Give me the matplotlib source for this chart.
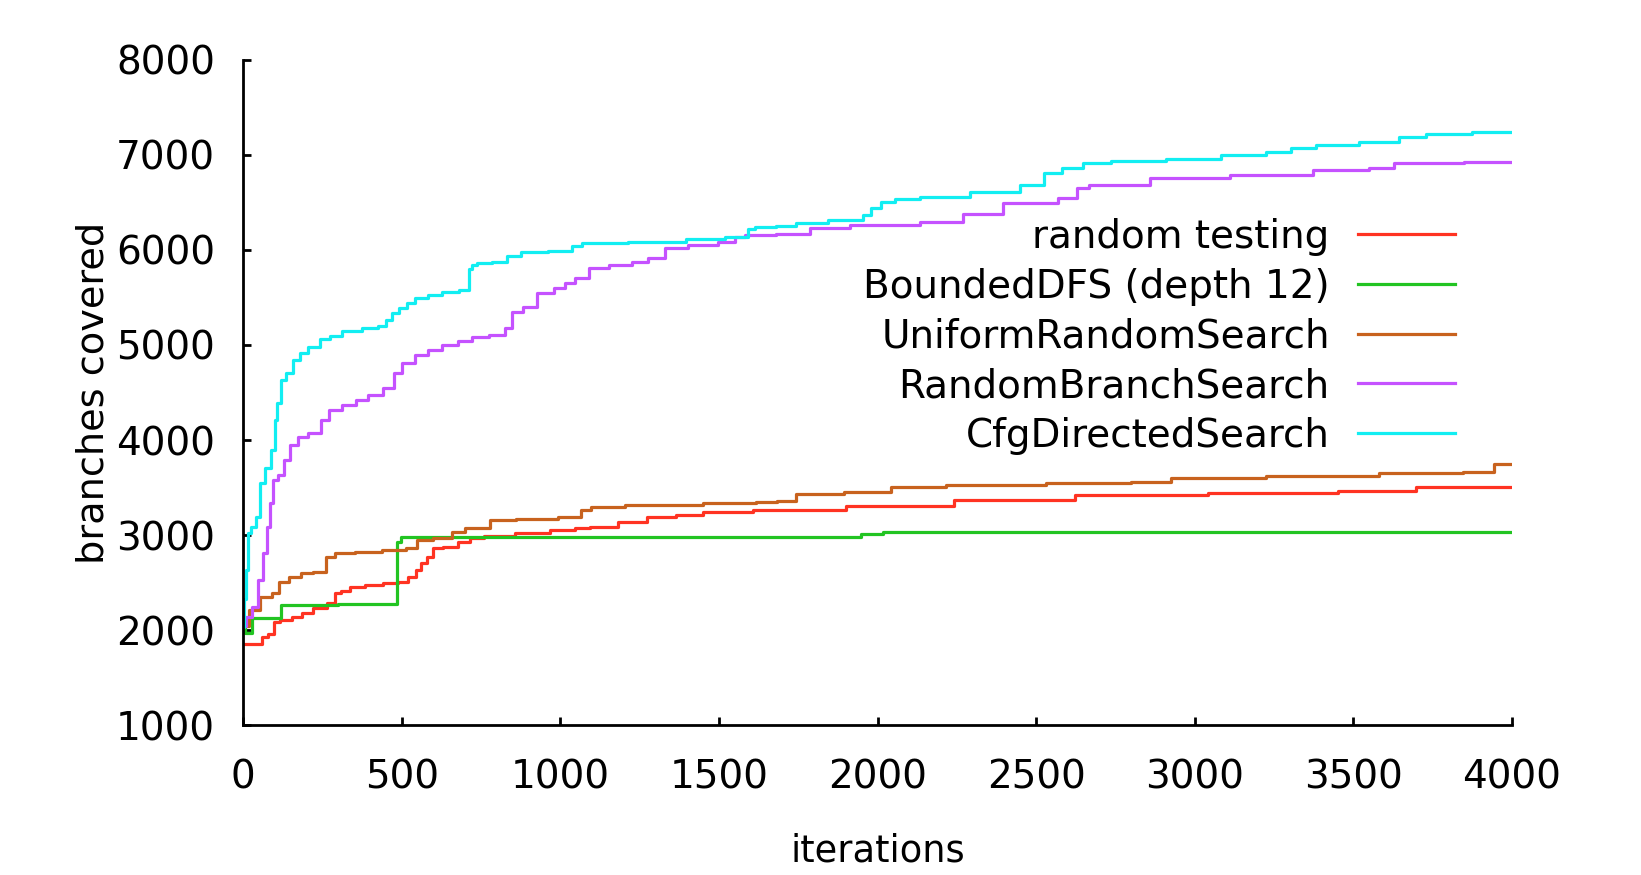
import matplotlib
matplotlib.use("Agg")
import matplotlib.pyplot as plt

plt.rcParams['font.family'] = ['DejaVu Sans']

# data (iteration, branches covered)
rt_it = [0, 55, 62, 95, 98, 132, 174, 195, 248, 284, 298, 321, 353, 416, 468, 510, 531, 557, 568, 594,
         605, 657, 699, 731, 788, 925, 1009, 1083, 1104, 1261, 1288, 1440, 1461, 1755, 2048, 2437, 2805,
         3278, 3625, 3771, 4000]
rt_val = [1850, 1860, 1930, 1965, 2090, 2107, 2142, 2184, 2230, 2283, 2388, 2416, 2458, 2476, 2493, 2510,
          2563, 2633, 2704, 2773, 2862, 2878, 2931, 2967, 2991, 3019, 3054, 3072, 3089, 3141, 3188, 3212,
          3243, 3264, 3306, 3370, 3422, 3446, 3467, 3503, 3510]

dfs_it = [0, 5, 5, 28, 28, 116, 122, 479, 489, 505, 1912, 1986, 2048, 4000]
dfs_val = [2040, 2040, 1970, 1970, 2125, 2125, 2270, 2280, 2930, 2985, 2985, 3010, 3036, 3036]

urs_it = [0, 38, 69, 111, 116, 174, 190, 253, 269, 311, 395, 479, 547, 552, 647, 668, 731, 773, 783, 936,
          1051, 1077, 1114, 1293, 1608, 1629, 1739, 1749, 2038, 2048, 2385, 2679, 2921, 2932, 3036, 3414,
          3750, 3939, 3950, 4000]
urs_val = [2040, 2212, 2353, 2388, 2510, 2563, 2599, 2616, 2773, 2809, 2826, 2844, 2862, 2949, 2967, 3036,
           3072, 3072, 3159, 3167, 3188, 3264, 3293, 3317, 3335, 3352, 3362, 3433, 3457, 3503, 3527, 3545,
           3562, 3598, 3600, 3622, 3650, 3667, 3745, 3745]

rbs_it = [0, 20, 38, 54, 69, 80, 90, 101, 122, 137, 159, 185, 227, 263, 279, 342, 373, 416, 468, 484,
          521, 563, 605, 647, 710, 731, 820, 831, 862, 904, 952, 1009, 1020, 1072, 1109, 1198, 1251, 1303,
          1356, 1450, 1545, 1555, 1608, 1755, 1818, 2007, 2259, 2280, 2511, 2626, 2631, 2700, 3015, 3204,
          3540, 3561, 3697, 4000]
rbs_val = [2040, 2140, 2247, 2528, 2809, 3089, 3335, 3580, 3633, 3790, 3948, 4035, 4071, 4211, 4316, 4369,
           4421, 4474, 4544, 4708, 4807, 4895, 4947, 5000, 5040, 5087, 5105, 5175, 5350, 5403, 5543, 5596,
           5649, 5701, 5806, 5841, 5876, 5911, 6017, 6052, 6086, 6139, 6157, 6170, 6227, 6262, 6297, 6374,
           6490, 6543, 6648, 6683, 6760, 6788, 6840, 6865, 6911, 6928]

cfg_it = [0, 6, 12, 17, 32, 48, 59, 80, 95, 106, 111, 130, 143, 174, 185, 227, 258, 290, 332, 416, 437,
          463, 474, 510, 521, 563, 605, 647, 712, 715, 731, 747, 820, 847, 904, 1020, 1051, 1083, 1345,
          1450, 1587, 1597, 1629, 1734, 1755, 1933, 1975, 1986, 2038, 2070, 2196, 2385, 2511, 2537, 2626,
          2668, 2805, 3015, 3152, 3299, 3310, 3456, 3582, 3708, 3750, 4000]
cfg_val = [2030, 2330, 2633, 3019, 3089, 3194, 3545, 3703, 3896, 4211, 4387, 4632, 4702, 4842, 4912, 4982,
           5060, 5094, 5150, 5175, 5200, 5263, 5333, 5386, 5445, 5491, 5526, 5561, 5578, 5800, 5841, 5859,
           5876, 5936, 5981, 5992, 6044, 6069, 6086, 6115, 6139, 6220, 6238, 6254, 6286, 6314, 6367, 6437,
           6507, 6532, 6553, 6612, 6683, 6806, 6858, 6917, 6935, 6960, 6998, 7033, 7075, 7103, 7138, 7191,
           7219, 7237]

xticks = [0, 500, 1000, 1500, 2000, 2500, 3000, 3500, 4000]
yticks = [1000, 2000, 3000, 4000, 5000, 6000, 7000, 8000]

fig = plt.figure(figsize=(16.41, 8.75), dpi=100)
ax = fig.add_axes([0.1481, 0.1711, 0.7733, 0.7607])

lw = 2.3
ax.plot(rt_it, rt_val, color='#ff3322', lw=lw, drawstyle='steps-mid', label='random testing')
ax.plot(dfs_it, dfs_val, color='#22c422', lw=lw, drawstyle='steps-mid', label='BoundedDFS (depth 12)')
ax.plot(urs_it, urs_val, color='#c8621e', lw=lw, drawstyle='steps-mid', label='UniformRandomSearch')
ax.plot(rbs_it, rbs_val, color='#c552ff', lw=lw, drawstyle='steps-mid', label='RandomBranchSearch')
ax.plot(cfg_it, cfg_val, color='#12eef2', lw=lw, drawstyle='steps-mid', label='CfgDirectedSearch')

ax.set_xlim(0, 4000)
ax.set_ylim(1000, 8000)
ax.set_xticks(xticks)
ax.set_yticks(yticks)

for s in ['top', 'right']:
    ax.spines[s].set_visible(False)
for s in ['left', 'bottom']:
    ax.spines[s].set_linewidth(2)

ax.tick_params(axis='both', direction='in', length=6, width=2, labelsize=28)
ax.tick_params(axis='x', pad=24)
ax.tick_params(axis='y', pad=20)

ax.set_xlabel('iterations', fontsize=26.5, labelpad=26)
ax.set_ylabel('branches covered', fontsize=27.5, labelpad=3)

ax.legend(loc='upper right', bbox_to_anchor=(0.955, 0.762), frameon=False, markerfirst=False,
          fontsize=28, handlelength=2.5, handletextpad=0.72, labelspacing=0.3,
          borderaxespad=0, borderpad=0)

fig.savefig('out.png', dpi=100)
